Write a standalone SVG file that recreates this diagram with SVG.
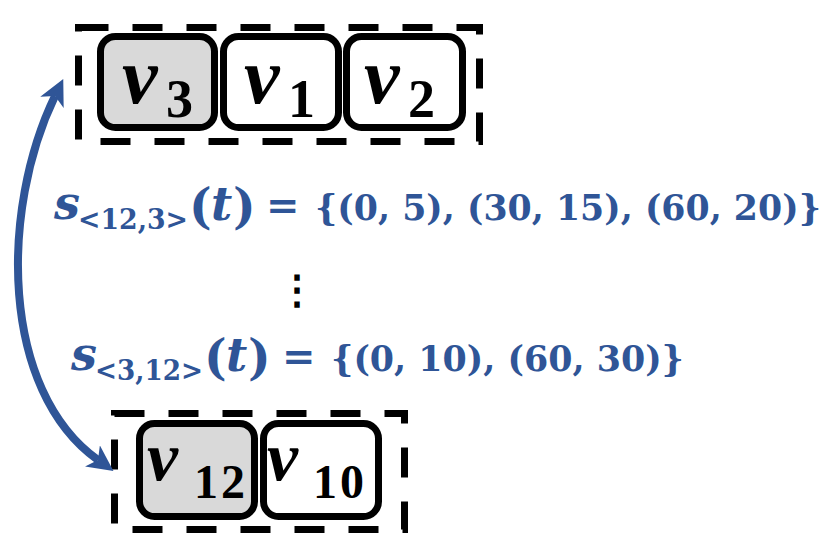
<svg xmlns="http://www.w3.org/2000/svg" width="829" height="543" viewBox="0 0 829 543">
<defs>
<style>
.group{fill:none;stroke:#000;stroke-width:7;stroke-dasharray:30 24}
.node{stroke:#000;stroke-width:7;fill:#fff}
.node.hl{fill:#D9D9D9}
.lbl{font-family:"Liberation Serif","Times New Roman",serif;font-weight:bold;fill:#000}
.it{font-style:italic}
.eq{font-family:"DejaVu Serif","Liberation Serif",serif;font-weight:bold;fill:#2F5597}
.link{fill:none;stroke:#2F5597;stroke-width:8}
</style>
<marker id="ah" viewBox="0 0 26 26" refX="7" refY="13" markerWidth="26" markerHeight="26" markerUnits="userSpaceOnUse" orient="auto-start-reverse">
<path d="M0,0 L26,13 L0,26 L7,13 Z" fill="#2F5597"/>
</marker>
</defs>

<g id="group-top">
<rect class="group" x="78.5" y="27.5" width="401" height="114"/>
</g>
<g id="node-v3">
<rect class="node hl" x="100.5" y="36.5" width="114" height="91" rx="15"/>
<text class="lbl" x="122" y="103"><tspan class="it" font-size="80">v</tspan><tspan x="166" y="117" font-size="54">3</tspan></text>
</g>
<g id="node-v1">
<rect class="node" x="223.5" y="36.5" width="115" height="91" rx="15"/>
<text class="lbl" x="244" y="103"><tspan class="it" font-size="80">v</tspan><tspan x="288" y="117" font-size="54">1</tspan></text>
</g>
<g id="node-v2">
<rect class="node" x="346.5" y="36.5" width="116" height="91" rx="15"/>
<text class="lbl" x="364" y="103"><tspan class="it" font-size="80">v</tspan><tspan x="408" y="117" font-size="54">2</tspan></text>
</g>

<g id="group-bottom">
<rect class="group" x="114.5" y="413.5" width="290" height="116"/>
</g>
<g id="node-v12">
<rect class="node hl" x="139.5" y="423.5" width="115" height="93" rx="15"/>
<text class="lbl" x="147" y="480"><tspan class="it" font-size="70">v</tspan><tspan x="194" y="498" font-size="48" letter-spacing="3">12</tspan></text>
</g>
<g id="node-v10">
<rect class="node" x="263.5" y="423.5" width="115" height="93" rx="15"/>
<text class="lbl" x="267" y="480"><tspan class="it" font-size="70">v</tspan><tspan x="313" y="498" font-size="48" letter-spacing="3">10</tspan></text>
</g>

<g id="connectors">
<path class="link" d="M55,96 C0,210 0,390 98,460" marker-start="url(#ah)" marker-end="url(#ah)"/>
</g>

<g id="formulas">
<text class="eq it" x="54" y="219" font-size="46">s</text>
<text class="eq" x="78" y="229" font-size="27" textLength="110" lengthAdjust="spacingAndGlyphs">&lt;12,3&gt;</text>
<text class="eq" x="189" y="223" font-size="48">(</text>
<text class="eq it" x="211" y="220" font-size="46">t</text>
<text class="eq" x="233" y="223" font-size="48">)</text>
<text class="eq" x="266" y="219" font-size="40">=</text>
<text class="eq" x="315" y="220" font-size="35" textLength="506" lengthAdjust="spacingAndGlyphs">{(0, 5), (30, 15), (60, 20)}</text>

<text x="277" y="303" font-size="40" font-family="DejaVu Serif" font-weight="bold" fill="#000">⋮</text>

<text class="eq it" x="71" y="370" font-size="46">s</text>
<text class="eq" x="95" y="380" font-size="27" textLength="108" lengthAdjust="spacingAndGlyphs">&lt;3,12&gt;</text>
<text class="eq" x="204" y="374" font-size="48">(</text>
<text class="eq it" x="226" y="371" font-size="46">t</text>
<text class="eq" x="248" y="374" font-size="48">)</text>
<text class="eq" x="282" y="370" font-size="40">=</text>
<text class="eq" x="331" y="371" font-size="35" textLength="353" lengthAdjust="spacingAndGlyphs">{(0, 10), (60, 30)}</text>
</g>
</svg>
